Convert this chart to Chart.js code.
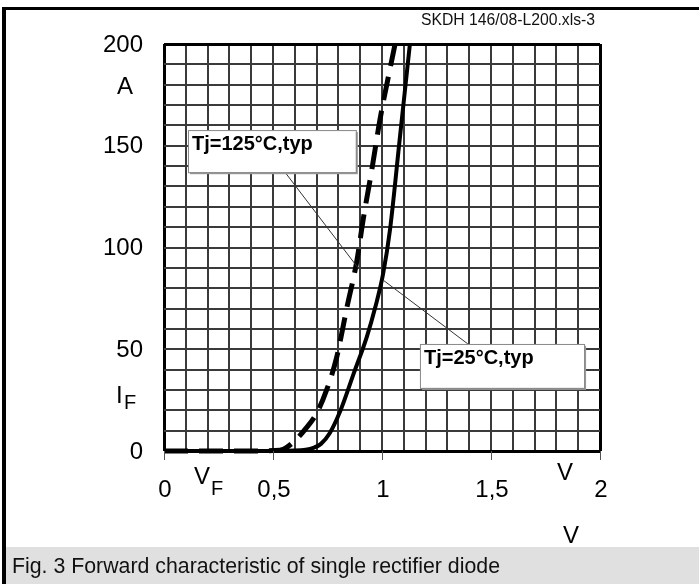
<!DOCTYPE html>
<html>
<head>
<meta charset="utf-8">
<script src="https://cdn.jsdelivr.net/npm/chart.js@4/dist/chart.umd.min.js"></script>
<style>
  body { margin: 0; background: #fff; }
  canvas { display: block; }
</style>
</head>
<body>
<canvas id="fwdChar" width="699" height="584"></canvas>
<script>
// forward voltage V_F (V) and forward current I_F (A)
var vf25 = [0, 0.4, 0.6, 0.65, 0.685, 0.72, 0.76, 0.81, 0.87, 0.93, 0.97, 1.005, 1.037, 1.08, 1.128];
var if25 = [0, 0, 0.2, 0.6, 1.5, 3.5, 8.7, 20, 38, 56, 71, 87, 109, 152, 200];
var vf125 = [0, 0.4, 0.5, 0.55, 0.6, 0.65, 0.7, 0.746, 0.792, 0.838, 0.884, 0.914, 0.953, 0.991, 1.06];
var if125 = [0, 0, 0.2, 1, 5, 11, 18.5, 30, 46, 70, 93, 114, 138, 163, 200];

var xTicks = [0, 0.5, 1, 1.5, 2];
var xTickLabels = ["0", "0,5", "1", "1,5", "2"];
var yTicks = [0, 50, 100, 150, 200];

function pts(xs, ys) {
  return xs.map(function (v, i) { return { x: v, y: ys[i] }; });
}

// label boxes + leader lines, in data units
var notes = [
  { text: "Tj=125°C,typ", box: [0.11, 157.7, 0.88, 137], from: [0.555, 137], to: [0.89, 90] },
  { text: "Tj=25°C,typ", box: [1.174, 52.6, 1.927, 31], from: [1.394, 52.6], to: [1.005, 84] }
];

var FONT = '"Liberation Sans", Arial, sans-serif';

function fitText(ctx, txt, x, y, w) {
  var m = ctx.measureText(txt).width;
  ctx.save();
  ctx.translate(x, y);
  ctx.scale(w / m, 1);
  ctx.fillText(txt, 0, 0);
  ctx.restore();
}

var decor = {
  id: "decor",
  beforeDraw: function (chart) {
    var ctx = chart.ctx;
    ctx.save();
    ctx.fillStyle = "#fff";
    ctx.fillRect(0, 0, chart.width, chart.height);
    ctx.restore();
  },
  afterDatasetsDraw: function (chart) {
    var ctx = chart.ctx, x = chart.scales.x, y = chart.scales.y;
    ctx.save();
    notes.forEach(function (n) {
      ctx.strokeStyle = "#333";
      ctx.lineWidth = 1;
      ctx.beginPath();
      ctx.moveTo(x.getPixelForValue(n.from[0]), y.getPixelForValue(n.from[1]));
      ctx.lineTo(x.getPixelForValue(n.to[0]), y.getPixelForValue(n.to[1]));
      ctx.stroke();
      var l = x.getPixelForValue(n.box[0]), t = y.getPixelForValue(n.box[1]);
      var r = x.getPixelForValue(n.box[2]), b = y.getPixelForValue(n.box[3]);
      ctx.fillStyle = "#999";
      ctx.fillRect(l + 2, t + 2, r - l, b - t);
      ctx.fillStyle = "#fff";
      ctx.fillRect(l, t, r - l, b - t);
      ctx.strokeStyle = "#888";
      ctx.strokeRect(l + 0.5, t + 0.5, r - l, b - t);
      ctx.fillStyle = "#000";
      ctx.font = "bold 20px " + FONT;
      ctx.textAlign = "left";
      ctx.textBaseline = "alphabetic";
      ctx.fillText(n.text, l + 4, t + 20);
    });
    ctx.restore();
  },
  afterDraw: function (chart) {
    var ctx = chart.ctx, x = chart.scales.x, y = chart.scales.y;
    ctx.save();
    // frame
    ctx.fillStyle = "#000";
    ctx.fillRect(2, 7, chart.width - 2, 3);
    ctx.fillRect(2, 7, 4, chart.height - 7);
    // caption band
    ctx.fillStyle = "#e0e0e0";
    ctx.fillRect(6, 547, chart.width - 6, chart.height - 547);
    ctx.fillStyle = "#111";
    ctx.font = "22px " + FONT;
    ctx.textBaseline = "alphabetic";
    ctx.textAlign = "left";
    fitText(ctx, "Fig. 3 Forward characteristic of single rectifier diode", 12, 573, 488);
    ctx.font = "16px " + FONT;
    fitText(ctx, "SKDH 146/08-L200.xls-3", 421, 25, 174);

    // x tick marks below axis
    ctx.strokeStyle = "#555";
    ctx.lineWidth = 1;
    xTicks.forEach(function (v) {
      var px = Math.round(x.getPixelForValue(v)) + 0.5;
      ctx.beginPath();
      ctx.moveTo(px, y.bottom);
      ctx.lineTo(px, y.bottom + 9);
      ctx.stroke();
    });

    // tick labels
    ctx.fillStyle = "#000";
    ctx.font = "24px " + FONT;
    ctx.textBaseline = "middle";
    ctx.textAlign = "right";
    yTicks.forEach(function (v) {
      ctx.fillText(String(v), x.left - 21, y.getPixelForValue(v) + 1);
    });
    ctx.textAlign = "center";
    xTicks.forEach(function (v, i) {
      ctx.fillText(xTickLabels[i], x.getPixelForValue(v) + 1, y.bottom + 39);
    });

    // axis names and units
    ctx.textAlign = "center";
    ctx.fillText("A", 125, 87);
    ctx.textAlign = "left";
    ctx.fillText("I", 116, 396);
    ctx.fillText("V", 194, 477);
    ctx.fillText("V", 557, 473);
    ctx.fillText("V", 563, 536);
    ctx.font = "20px " + FONT;
    ctx.fillText("F", 124, 403);
    ctx.fillText("F", 211, 489);
    ctx.restore();
  }
};

function edgeWidth(lo, hi) {
  return function (c) {
    var v = c.tick ? c.tick.value : null;
    return (Math.abs(v - lo) < 1e-6 || Math.abs(v - hi) < 1e-6) ? 3 : 2;
  };
}
function edgeColor(lo, hi) {
  return function (c) {
    var v = c.tick ? c.tick.value : null;
    return (Math.abs(v - lo) < 1e-6 || Math.abs(v - hi) < 1e-6) ? "#000" : "#3a3a3a";
  };
}

var ctx = document.getElementById("fwdChar").getContext("2d");
var fwdChart = new Chart(ctx, {
  type: "line",
  data: {
    datasets: [
      {
        label: "Tj=25°C,typ",
        data: pts(vf25, if25),
        borderColor: "#000",
        borderWidth: 4,
        pointRadius: 0,
        cubicInterpolationMode: "monotone",
        fill: false,
        clip: 4,
      },
      {
        label: "Tj=125°C,typ",
        data: pts(vf125, if125),
        borderColor: "#000",
        borderWidth: 5,
        borderDash: [24, 11],
        pointRadius: 0,
        cubicInterpolationMode: "monotone",
        fill: false,
        clip: 4,
      },
    ],
  },
  options: {
    responsive: false,
    animation: false,
    layout: { padding: { left: 164, right: 99, top: 44, bottom: 133 } },
    plugins: { legend: { display: false }, tooltip: { enabled: false } },
    scales: {
      x: {
        type: "linear",
        min: 0,
        max: 2,
        ticks: { display: false, stepSize: 0.1 },
        grid: { drawTicks: false, lineWidth: edgeWidth(0, 2), color: edgeColor(0, 2) },
        border: { display: false },
        afterFit: function (s) { s.height = 0; },
      },
      y: {
        type: "linear",
        min: 0,
        max: 200,
        ticks: { display: false, stepSize: 10 },
        grid: { drawTicks: false, lineWidth: edgeWidth(0, 200), color: edgeColor(0, 200) },
        border: { display: false },
        afterFit: function (s) { s.width = 0; },
      },
    },
  },
  plugins: [decor],
});
</script>
</body>
</html>
